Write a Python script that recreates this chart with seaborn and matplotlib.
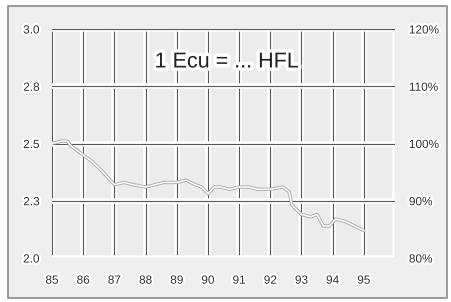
import pandas as pd
import seaborn as sns
import matplotlib.pyplot as plt
import matplotlib.patheffects as pe
from matplotlib.patches import Rectangle

# Ecu in Dutch guilders
years = [85.0, 85.3, 85.5, 85.6, 86.0, 86.3, 86.6, 86.8, 87.0, 87.3, 87.6, 88.0,
         88.3, 88.6, 89.0, 89.3, 89.6, 89.8, 90.0, 90.2, 90.4, 90.7, 91.0, 91.3,
         91.6, 92.0, 92.4, 92.6, 92.7, 93.0, 93.3, 93.5, 93.7, 93.9, 94.1, 94.4,
         94.7, 95.0]
rate = [2.50, 2.51, 2.51, 2.49, 2.45, 2.42, 2.38, 2.35, 2.32, 2.33, 2.32, 2.31,
        2.32, 2.33, 2.33, 2.34, 2.32, 2.31, 2.28, 2.31, 2.31, 2.30, 2.31, 2.31,
        2.30, 2.30, 2.31, 2.29, 2.23, 2.19, 2.18, 2.19, 2.14, 2.14, 2.17, 2.16,
        2.14, 2.12]

x_ticks = list(range(85, 96))
x_labels = [str(y) for y in x_ticks]
y_ticks = [2.0, 2.25, 2.5, 2.75, 3.0]
y_labels = ["2.0", "2.3", "2.5", "2.8", "3.0"]
pct_labels = ["80%", "90%", "100%", "110%", "120%"]

df = pd.DataFrame({"year": years, "rate": rate})

sns.set_style("white")
plt.rcParams["font.family"] = ["Liberation Sans", "DejaVu Sans"]

fig = plt.figure(figsize=(4.52, 3.02), dpi=100, facecolor="white")
fig.patches.append(Rectangle((8 / 452, 4 / 302), 439 / 452, 292 / 302,
                             transform=fig.transFigure, facecolor="#efefef",
                             edgecolor="#8a8a8a", linewidth=1.2, zorder=-10))
ax = fig.add_axes([52 / 452, 44 / 302, 343 / 452, 229 / 302])
ax.set_facecolor("#ececec")

halo = [pe.Stroke(linewidth=4, foreground="white"), pe.Normal()]
for x in x_ticks + [96]:
    ax.axvline(x, color="#555555", lw=0.8, zorder=1, path_effects=halo)
for y in y_ticks:
    ax.axhline(y, color="#555555", lw=0.8, zorder=1, path_effects=halo)

sns.lineplot(data=df, x="year", y="rate", ax=ax, color="#f7f7f7", lw=1.2,
             zorder=3, path_effects=[pe.Stroke(linewidth=2.4, foreground="#a8a8a8"),
                                     pe.Normal()])

ax.set_xlim(85, 96)
ax.set_ylim(2.0, 3.0)
ax.set_xticks(x_ticks)
ax.set_xticklabels(x_labels)
ax.set_yticks(y_ticks)
ax.set_yticklabels(y_labels)
ax.set_xlabel("")
ax.set_ylabel("")
ax.tick_params(axis="y", length=0, labelsize=8.5, colors="#333333", pad=9)
ax.tick_params(axis="x", length=0, labelsize=8.5, colors="#333333", pad=12)
for s in ax.spines.values():
    s.set_visible(False)

ax2 = ax.twinx()
ax2.set_ylim(80, 120)
ax2.set_yticks([80, 90, 100, 110, 120])
ax2.set_yticklabels(pct_labels)
ax2.tick_params(length=0, labelsize=8.5, colors="#333333", pad=10)
for s in ax2.spines.values():
    s.set_visible(False)

label_halo = [pe.Stroke(linewidth=3, foreground="white"), pe.Normal()]
for t in ax.get_xticklabels() + ax.get_yticklabels() + ax2.get_yticklabels():
    t.set_path_effects(label_halo)

ax.text(90.6, 2.856, "1 Ecu = ... HFL", ha="center", va="center", fontsize=15.5,
        color="#222222", zorder=5,
        path_effects=[pe.Stroke(linewidth=5, foreground="white"), pe.Normal()])

fig.savefig("out.png", dpi=100)
